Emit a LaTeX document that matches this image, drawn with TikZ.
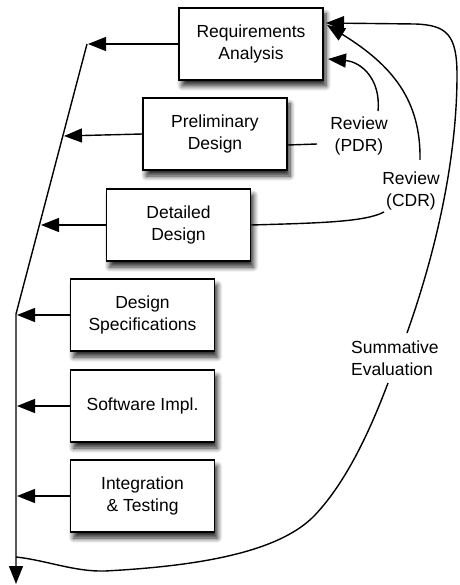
\documentclass[tikz,border=0pt]{standalone}
\usepackage{fontspec}
\setmainfont{Liberation Sans}
\usetikzlibrary{arrows.meta,shadows.blur}
\begin{document}
\begin{tikzpicture}[x=1pt,y=-1pt,
  stage/.style={draw,line width=1.5pt,fill=white,minimum width=144pt,minimum height=72pt,
    align=center,inner sep=0pt,font=\fontsize{17.5}{22}\selectfont,
    blur shadow={shadow xshift=3pt,shadow yshift=-6pt,shadow blur radius=5pt,shadow blur steps=8,shadow opacity=85}},
  lbl/.style={align=center,inner sep=1pt,font=\fontsize{17.5}{22}\selectfont},
  con/.style={line width=1.4pt},
  arr/.style={con,-{Triangle[length=18pt,width=14pt]}}]
\useasboundingbox (0,0) rectangle (459,585);

% stages
\node[stage] (req)   at (251,44)    {Requirements\\Analysis};
\node[stage] (pre)   at (215,134)   {Preliminary\\Design};
\node[stage] (det)   at (178.5,225) {Detailed\\Design};
\node[stage] (spec)  at (142.5,315) {Design\\Specifications};
\node[stage] (sw)    at (142.5,406) {Software Impl.};
\node[stage] (integ) at (142.5,496) {Integration\\\& Testing};

% labels
\node[lbl] (pdr) at (359,136) {Review\\(PDR)};
\node[lbl] (cdr) at (411,191) {Review\\(CDR)};
\node[lbl,align=left,anchor=west] (sum) at (350,358) {Summative\\Evaluation};

% main left line
\coordinate (top)  at (87,44);
\coordinate (kink) at (16,314);
\coordinate (bot)  at (16,584);
\draw[arr] (top) -- (kink) -- (bot);

% outputs to the left line
\coordinate (t1) at (88,44);
\coordinate (t2) at (64,136);
\coordinate (t3) at (41,225);
\coordinate (t4) at (17,315);
\coordinate (t5) at (17,406);
\coordinate (t6) at (17,496);
\draw[arr] (req.west) -- (t1);
\draw[arr] (pre.west) -- (t2);
\draw[arr] (det.west) -- (t3);
\draw[arr] (spec.west) -- (t4);
\draw[arr] (sw.west) -- (t5);
\draw[arr] (integ.west) -- (t6);

% review PDR
\coordinate (pdrL) at (317,144);
\coordinate (pdrT) at (378,111);
\coordinate (rqA)  at (328,59);
\draw[con] ([yshift=-11pt]pre.east) -- (pdrL);
\draw[arr] (pdrT) .. controls (381,80) and (362,62) .. (rqA);

% review CDR
\coordinate (cdrL) at (384,212);
\coordinate (cdrT) at (420,160);
\coordinate (rqB)  at (327,25);
\draw[con] (det.east) .. controls (320,223) and (365,222) .. (cdrL);
\draw[arr] (cdrT) .. controls (421,100) and (392,65) .. (rqB);

% summative evaluation
\coordinate (sumL) at (16,557);
\coordinate (sumB) at (388,383);
\coordinate (sumT) at (407,333);
\coordinate (rqC)  at (326,23);
\draw[con] (sumL) .. controls (45,560) and (75,572) .. (105,571)
  .. controls (200,566) and (280,552) .. (315,515)
  .. controls (350,478) and (374,420) .. (sumB);
\draw[arr] (sumT) .. controls (440,240) and (457,150) .. (457,75)
  .. controls (457,35) and (447,25) .. (415,24) -- (rqC);
\end{tikzpicture}
\end{document}
